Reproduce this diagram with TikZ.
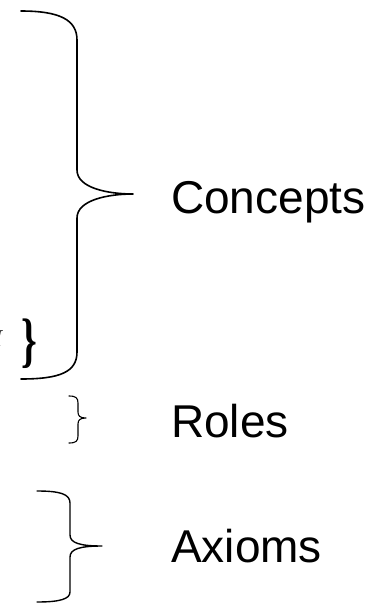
\documentclass[tikz,border=0pt]{standalone}
\usepackage{fontspec}
\setmainfont{Liberation Sans}
\newfontfamily\setfont{Liberation Serif}
\begin{document}
\begin{tikzpicture}[x=1pt,y=-1pt,line join=round,line cap=round,
		lbl/.style={anchor=base west,inner sep=0pt,font=\fontsize{46}{54}\selectfont}]
	\tikzset{brace/.style={line width=1.4pt}}
	\useasboundingbox (0,0) rectangle (381,603);
	% tail of the concept set, cut at the left border
	\node[anchor=base east,inner sep=0pt,font=\setfont\fontsize{40}{46}\selectfont] (set) at (37,360)
		{\raisebox{14pt}{\fontsize{24}{28}\selectfont\itshape I}\hspace{19pt}\scalebox{1}[1.5]{\textbf{\}}}};
	% braces
	\draw[brace,line width=1.6pt] (21,11) .. controls (60,11) and (77,20) .. (77,40) -- (77,170)
		.. controls (77,188) and (108,194) .. (133,194)
		.. controls (108,194) and (77,200) .. (77,218) -- (77,352)
		.. controls (77,372) and (60,379) .. (21,379);
	\draw[brace,line width=1.1pt] (69,396) .. controls (76,396) and (78,398) .. (78,403) -- (78,412)
		.. controls (78,416) and (80,418) .. (86,418)
		.. controls (80,418) and (78,420) .. (78,424) -- (78,436)
		.. controls (78,441) and (76,443) .. (69,443);
	\draw[brace] (37,491) .. controls (60,491) and (70,494) .. (70,503) -- (70,535)
		.. controls (70,543) and (80,546) .. (102,546)
		.. controls (80,546) and (70,549) .. (70,557) -- (70,592)
		.. controls (70,599) and (60,602) .. (37,602);
	% labels
	\node[lbl] (concepts) at (171,213) {Concepts};
	\node[lbl] (roles) at (171,437) {Roles};
	\node[lbl] (axioms) at (171,562) {Axioms};
\end{tikzpicture}
\end{document}
